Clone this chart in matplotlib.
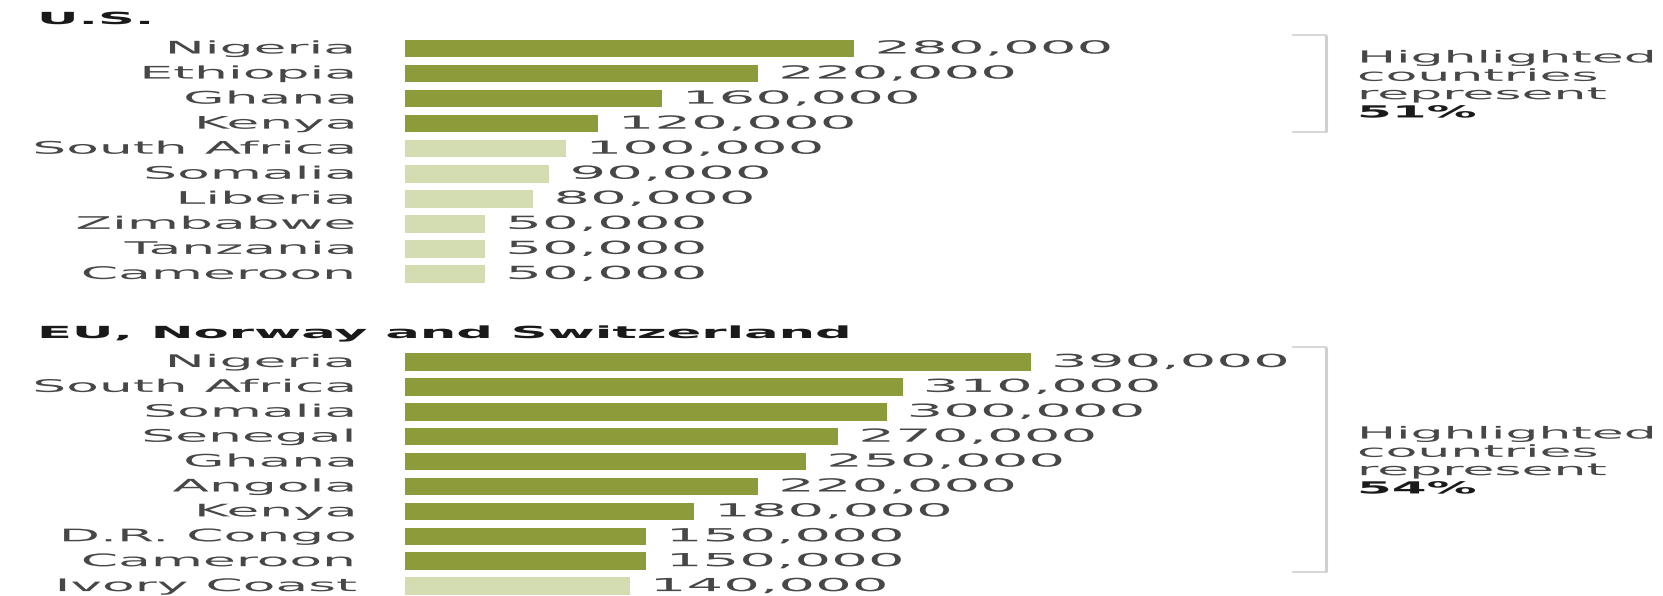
import matplotlib
matplotlib.use("Agg")
import matplotlib.pyplot as plt
from matplotlib.patheffects import AbstractPathEffect
from matplotlib.transforms import Affine2D, ScaledTranslation
from matplotlib.lines import Line2D

# ---------------- data ----------------
us_title = "U.S."
us_countries = ["Nigeria", "Ethiopia", "Ghana", "Kenya", "South Africa",
                "Somalia", "Liberia", "Zimbabwe", "Tanzania", "Cameroon"]
us_values = [280000, 220000, 160000, 120000, 100000, 90000, 80000, 50000, 50000, 50000]
us_highlighted = 4
us_share = "51%"

eu_title = "EU, Norway and Switzerland"
eu_countries = ["Nigeria", "South Africa", "Somalia", "Senegal", "Ghana",
                "Angola", "Kenya", "D.R. Congo", "Cameroon", "Ivory Coast"]
eu_values = [390000, 310000, 300000, 270000, 250000, 220000, 180000, 150000, 150000, 140000]
eu_highlighted = 9
eu_share = "54%"

note_lines = ["Highlighted", "countries", "represent"]

# ---------------- style / layout ----------------
W, H, DPI = 1663, 596, 100
DARK = "#8d9b3b"
LIGHT = "#d4dcb2"
LABEL_COLOR = "#474747"
TITLE_COLOR = "#1a1a1a"
BRACKET_COLOR = "#cfcfcf"

BAR_X0 = 405              # pixel where bars start
PX_PER_UNIT = 1.605 / 1000
XMAX = (W - BAR_X0) / PX_PER_UNIT


class HStretch(AbstractPathEffect):
    """Draw a text horizontally stretched about its anchor point."""
    def __init__(self, text, sx):
        super().__init__()
        self.text = text
        self.sx = sx

    def draw_path(self, renderer, gc, tpath, affine, rgbFace=None):
        x0, _ = self.text.get_transform().transform(self.text.get_unitless_position())
        st = Affine2D().translate(-x0, 0).scale(self.sx, 1).translate(x0, 0)
        renderer.draw_path(gc, tpath, affine + st, rgbFace)


def stretched(t, sx):
    t.set_path_effects([HStretch(t, sx)])
    return t


fig = plt.figure(figsize=(W / DPI, H / DPI), dpi=DPI)
fig.patch.set_facecolor("white")

panels = [
    dict(title=us_title, countries=us_countries, values=us_values, n_hi=us_highlighted,
         share=us_share, row0=48.5, step=25.05, title_y=19, br=(35, 132)),
    dict(title=eu_title, countries=eu_countries, values=eu_values, n_hi=eu_highlighted,
         share=eu_share, row0=362, step=24.9, title_y=333, br=(347, 572)),
]

for p in panels:
    n = len(p["values"])
    top = p["row0"] - p["step"] / 2
    bottom = p["row0"] + (n - 0.5) * p["step"]
    ax = fig.add_axes([BAR_X0 / W, 1 - bottom / H, 1 - BAR_X0 / W, (bottom - top) / H])
    ypos = list(range(n))
    colors = [DARK if i < p["n_hi"] else LIGHT for i in ypos]
    ax.barh(ypos, p["values"], height=0.7, color=colors, linewidth=0)
    ax.set_xlim(0, XMAX)
    ax.set_ylim(n - 0.5, -0.5)
    ax.axis("off")

    lab_tr = ax.transData + ScaledTranslation(-47 / DPI, 0, fig.dpi_scale_trans)
    val_tr = ax.transData + ScaledTranslation(20 / DPI, 0, fig.dpi_scale_trans)
    for i, (c, v) in enumerate(zip(p["countries"], p["values"])):
        t = ax.text(0, i, c, transform=lab_tr, ha="right", va="center",
                    fontsize=12.5, color=LABEL_COLOR, clip_on=False)
        stretched(t, 3.08)
        t = ax.text(v, i, f"{v:,}", transform=val_tr, ha="left", va="center",
                    fontsize=13, color=LABEL_COLOR, clip_on=False)
        stretched(t, 3.2)

    # title
    t = fig.text(37 / W, 1 - p["title_y"] / H, p["title"], ha="left", va="center",
                 fontsize=12, fontweight="bold", color=TITLE_COLOR)
    stretched(t, 3.07)

    # bracket
    y1, y2 = p["br"]
    xv, xt = 1326 / W, 1293 / W
    fig.add_artist(Line2D([xv, xv], [1 - y1 / H, 1 - y2 / H], color=BRACKET_COLOR,
                          linewidth=2.2, transform=fig.transFigure, solid_capstyle="butt"))
    for yy in (y1, y2):
        fig.add_artist(Line2D([xt, xv], [1 - yy / H, 1 - yy / H], color=BRACKET_COLOR,
                              linewidth=1.2, transform=fig.transFigure))

    # note
    yc = (y1 + y2) / 2
    lines = note_lines + [p["share"]]
    for k, line in enumerate(lines):
        ypx = yc + (k - 1.5) * 18.3 + 1.5
        t = fig.text(1357 / W, 1 - ypx / H, line, ha="left", va="center", fontsize=12,
                     color=LABEL_COLOR if k < 3 else TITLE_COLOR,
                     fontweight="normal" if k < 3 else "bold")
        stretched(t, 3.12 if k < 3 else 3.0)

fig.savefig("out.png", dpi=DPI, facecolor="white")
